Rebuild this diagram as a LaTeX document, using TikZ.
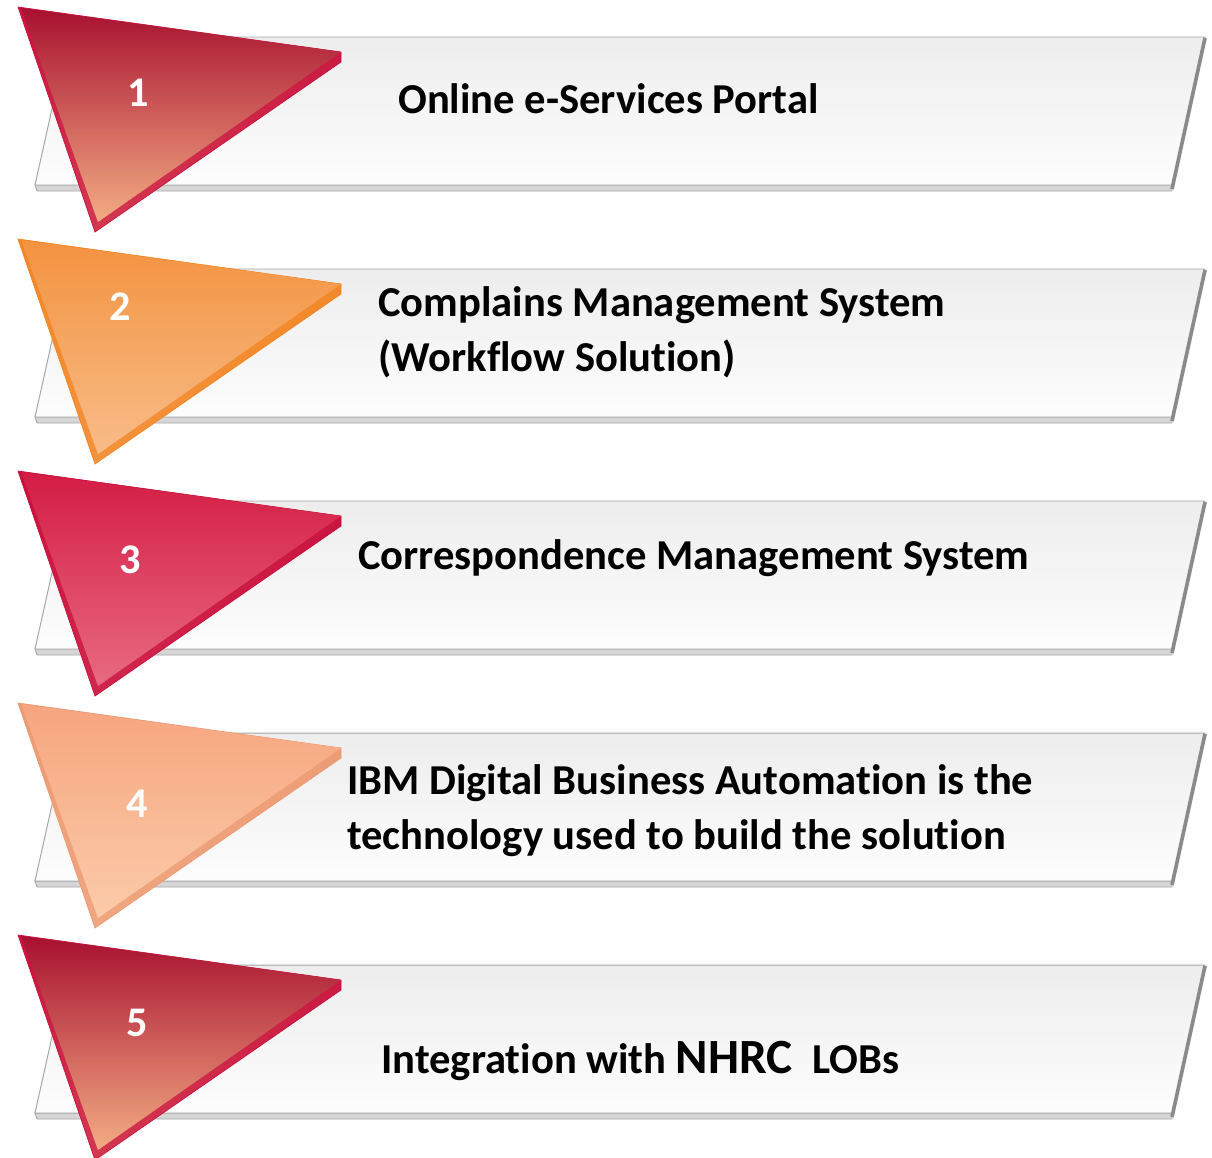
\documentclass[tikz,border=0pt]{standalone}
\usepackage{fontspec}
\setmainfont{Carlito}[Ligatures=NoCommon]
\usetikzlibrary{calc}
\definecolor{barTop}{HTML}{EDEDED}
\definecolor{barBot}{HTML}{FDFDFD}
\definecolor{barLine}{HTML}{A6A6A6}
\definecolor{barStrip}{HTML}{D6D6D6}
\definecolor{barEdge}{HTML}{8A8A8A}
% triangle colours: top, middle, bottom, side
\definecolor{redA}{HTML}{A8102F}\definecolor{redB}{HTML}{C9545A}\definecolor{redC}{HTML}{F3AC84}\definecolor{redS}{HTML}{C8123E}
\definecolor{orgA}{HTML}{F39340}\definecolor{orgB}{HTML}{F5A660}\definecolor{orgC}{HTML}{F8BC88}\definecolor{orgS}{HTML}{F28524}
\definecolor{crmA}{HTML}{D41C44}\definecolor{crmB}{HTML}{DE3C5C}\definecolor{crmC}{HTML}{E86A82}\definecolor{crmS}{HTML}{C8103C}
\definecolor{pchA}{HTML}{F6A57E}\definecolor{pchB}{HTML}{F8B690}\definecolor{pchC}{HTML}{FBCBAA}\definecolor{pchS}{HTML}{EC9A72}
\tikzset{
  bar_face/.style = {draw=barLine, line width=0.7pt, top color=barTop, bottom color=barBot},
  bar_strip/.style = {draw=barLine, line width=0.6pt, fill=barStrip},
  bar_edge/.style = {draw=barEdge, line width=2.6pt},
  tri_num/.style = {inner sep=0pt, text=white, font=\fontsize{30}{34}\selectfont\bfseries},
  item_txt/.style = {inner sep=0pt, anchor=base west, align=left, font=\fontsize{30.3}{39}\selectfont\bfseries}
}

\begin{document}
\begin{tikzpicture}[x=0.025cm, y=-0.025cm]
\useasboundingbox (0,0) rectangle (1212,1158);
\foreach \k/\ca/\cb/\cc/\cs in {0/redA/redB/redC/redS, 1/orgA/orgB/orgC/orgS,
	2/crmA/crmB/crmC/crmS, 3/pchA/pchB/pchC/pchS, 4/redA/redB/redC/redS}{
	\pgfmathsetmacro{\dy}{232*\k}
	% bar
	\path[bar_strip] (35,185+\dy) -- (1172,185+\dy) -- (1172,191+\dy) -- (37,191+\dy) -- cycle;
	\path[bar_face] (68,37+\dy) -- (1205,37+\dy) -- (1172,185+\dy) -- (35,185+\dy) -- cycle;
	\path[bar_edge] (1205,38+\dy) -- (1172,189+\dy);
	% triangle
	\path[draw=\cs, line width=0.5pt, top color=\cs, bottom color=\cs!75!\cc] (18,7+\dy) -- (341,52+\dy) -- (341,62+\dy) -- (95,232+\dy) -- cycle;
	\path[top color=\ca, middle color=\cb, bottom color=\cc] (21,8+\dy) -- (341,52+\dy) -- (98,222+\dy) -- cycle;
}
\node[tri_num] (num1) at (138,93) {1};
\node[tri_num] (num2) at (120,307) {2};
\node[tri_num] (num3) at (130,560) {3};
\node[tri_num] (num4) at (137,804) {4};
\node[tri_num] (num5) at (137,1023) {5};
\node[item_txt] (txt1) at (398,113) {Online e-Services Portal};
\node[item_txt] (txt2) at (378,371) {Complains Management System\\(Workflow Solution)};
\node[item_txt] (txt3) at (358,569) {Correspondence Management System};
\node[item_txt] (txt4) at (347,849) {IBM Digital Business Automation is the\\technology used to build the solution};
\node[item_txt] (txt5) at (381,1073) {Integration with {\fontsize{35}{39}\selectfont NHRC}\ \ LOBs};
\end{tikzpicture}
\end{document}
